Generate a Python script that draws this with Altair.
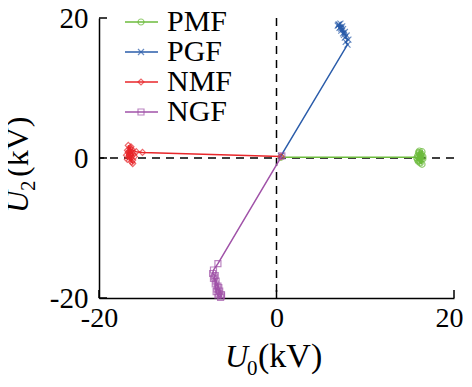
import altair as alt
import pandas as pd

# ---- data (kV) ----
series = ["PMF", "PGF", "NMF", "NGF"]
colors = ["#6cbb3c", "#2a5caa", "#e8262a", "#a052a8"]

pmf_x = [0.5, 16.0, 16.3, 16.1, 15.9, 16.4, 16.2, 16.5, 16.0, 16.3, 16.1, 16.4, 15.8, 16.2, 16.0, 16.3, 16.5, 16.1, 15.9, 16.2]
pmf_y = [0.1, 0.1, 0.6, -0.4, 0.3, 0.9, -0.7, 0.2, 0.8, -0.2, 1.0, -0.9, 0.0, 0.5, -0.5, 0.3, -0.1, 0.7, -0.3, 0.0]

pgf_x = [0.5, 8.0, 7.8, 8.1, 7.7, 7.9, 7.5, 7.7, 7.3, 7.5, 7.1, 7.4, 7.0, 7.2, 6.9, 7.3, 7.6, 7.2, 7.0]
pgf_y = [0.3, 16.2, 16.6, 16.9, 17.2, 17.5, 17.8, 18.0, 18.2, 18.4, 18.6, 18.8, 19.0, 19.2, 18.9, 18.5, 17.6, 18.7, 19.1]

nmf_x = [0.5, -15.1, -15.8, -16.3, -16.6, -16.2, -16.7, -16.4, -16.8, -16.1, -16.5, -16.9, -16.3, -16.6, -16.0, -16.7, -16.4, -16.8, -16.2]
nmf_y = [0.2, 0.8, 0.9, 1.2, 0.3, -0.3, 0.8, 1.6, -0.2, 0.5, 1.4, 0.4, -0.6, 1.0, 0.2, 1.8, 0.0, 1.1, -0.8]

ngf_x = [0.6, -6.6, -7.1, -7.2, -6.9, -7.1, -6.8, -6.9, -6.6, -6.7, -6.4, -6.5, -6.2, -6.3, -6.6, -6.8, -7.0, -6.5, -6.2]
ngf_y = [0.3, -15.1, -16.0, -16.5, -16.8, -17.2, -17.6, -18.0, -18.3, -18.7, -19.0, -19.4, -19.7, -19.9, -19.6, -19.1, -17.0, -18.5, -19.5]

tick_values = [-20, 0, 20]

xs = [pmf_x, pgf_x, nmf_x, ngf_x]
ys = [pmf_y, pgf_y, nmf_y, ngf_y]

shapes = ["circle", "M-1,-1L1,1M-1,1L1,-1", "diamond", "square"]

W, H = 355, 280
SERIF = "Liberation Serif"

xscale = alt.Scale(domain=[-20, 20], nice=False, zero=False)
yscale = alt.Scale(domain=[-20, 20], nice=False, zero=False)

layers = []

# dashed reference lines
zero_df = pd.DataFrame({"v": [0]})
layers.append(alt.Chart(zero_df).mark_rule(color="black", strokeDash=[8, 6], strokeWidth=1.5).encode(
    x=alt.X("v:Q", scale=xscale,
            axis=alt.Axis(values=tick_values, labelExpr="'' + datum.value", tickSize=0,
                          domainColor="black", domainWidth=1.5, grid=False, labelFlush=False,
                          labelFont=SERIF, labelFontSize=28, labelColor="black",
                          labelOffset={"condition": {"test": "datum.value == 20", "value": -5}, "value": 0},
                          labelPadding=6, title=None))))
layers.append(alt.Chart(zero_df).mark_rule(color="black", strokeDash=[8, 6], strokeWidth=1.5).encode(
    y=alt.Y("v:Q", scale=yscale,
            axis=alt.Axis(values=tick_values, labelExpr="'' + datum.value", tickSize=0,
                          domainColor="black", domainWidth=1.5, grid=False, labelFlush=False,
                          labelFont=SERIF, labelFontSize=29, labelColor="black",
                          labelPadding=11, title=None))))

# inward ticks
tdf = pd.DataFrame({"t": tick_values})
layers.append(alt.Chart(tdf).mark_rule(color="black", strokeWidth=1.5).encode(
    x=alt.X("t:Q", scale=xscale), y=alt.value(H), y2=alt.value(H - 8)))
layers.append(alt.Chart(tdf).mark_rule(color="black", strokeWidth=1.5).encode(
    y=alt.Y("t:Q", scale=yscale), x=alt.value(0), x2=alt.value(8)))

# data series
for name, col, shp, sx, sy in zip(series, colors, shapes, xs, ys):
    df = pd.DataFrame({"x": sx, "y": sy, "i": list(range(len(sx)))})
    base = alt.Chart(df)
    layers.append(base.mark_line(color=col, strokeWidth=1.5).encode(
        x=alt.X("x:Q", scale=xscale), y=alt.Y("y:Q", scale=yscale), order="i:Q"))
    layers.append(base.mark_point(color=col, shape=shp, filled=False, size=36, strokeWidth=1.2).encode(
        x=alt.X("x:Q", scale=xscale), y=alt.Y("y:Q", scale=yscale)))

# legend
for k, (name, col, shp) in enumerate(zip(series, colors, shapes)):
    ldf = pd.DataFrame({"s": [name]})
    yc = 4 + 30 * k
    lb = alt.Chart(ldf)
    layers.append(lb.mark_rule(color=col, strokeWidth=1.5).encode(
        x=alt.value(26), x2=alt.value(59), y=alt.value(yc)))
    layers.append(lb.mark_point(color=col, shape=shp, filled=False, size=36, strokeWidth=1.2).encode(
        x=alt.value(42), y=alt.value(yc)))
    layers.append(lb.mark_text(font=SERIF, fontSize=30, align="left", baseline="alphabetic", color="black").encode(
        x=alt.value(68), y=alt.value(yc + 9), text="s:N"))

# axis titles
def txt(s, x, y, size, italic=False, angle=0):
    d = pd.DataFrame({"s": [s]})
    kw = dict(font=SERIF, fontSize=size, align="left", baseline="alphabetic", color="black")
    if italic:
        kw["fontStyle"] = "italic"
    if angle:
        kw["angle"] = angle
    return alt.Chart(d).mark_text(**kw).encode(x=alt.value(x), y=alt.value(y), text="s:N")

layers.append(txt("U", 126, 349, 32, italic=True))
layers.append(txt("0", 148, 357, 21))
layers.append(txt("(kV)", 159, 349, 34))

layers.append(txt("U", -71, 195, 31, italic=True, angle=270))
layers.append(txt("2", -64, 173, 21, angle=270))
layers.append(txt("(kV)", -71, 159, 32, angle=270))

chart = alt.layer(*layers).properties(
    width=W, height=H,
    autosize=alt.AutoSizeParams(type="none"),
    padding={"left": 91, "top": 10, "right": 9, "bottom": 88},
).configure_view(stroke=None)

chart.save("out.html", embed_options={"renderer": "svg", "actions": False})
